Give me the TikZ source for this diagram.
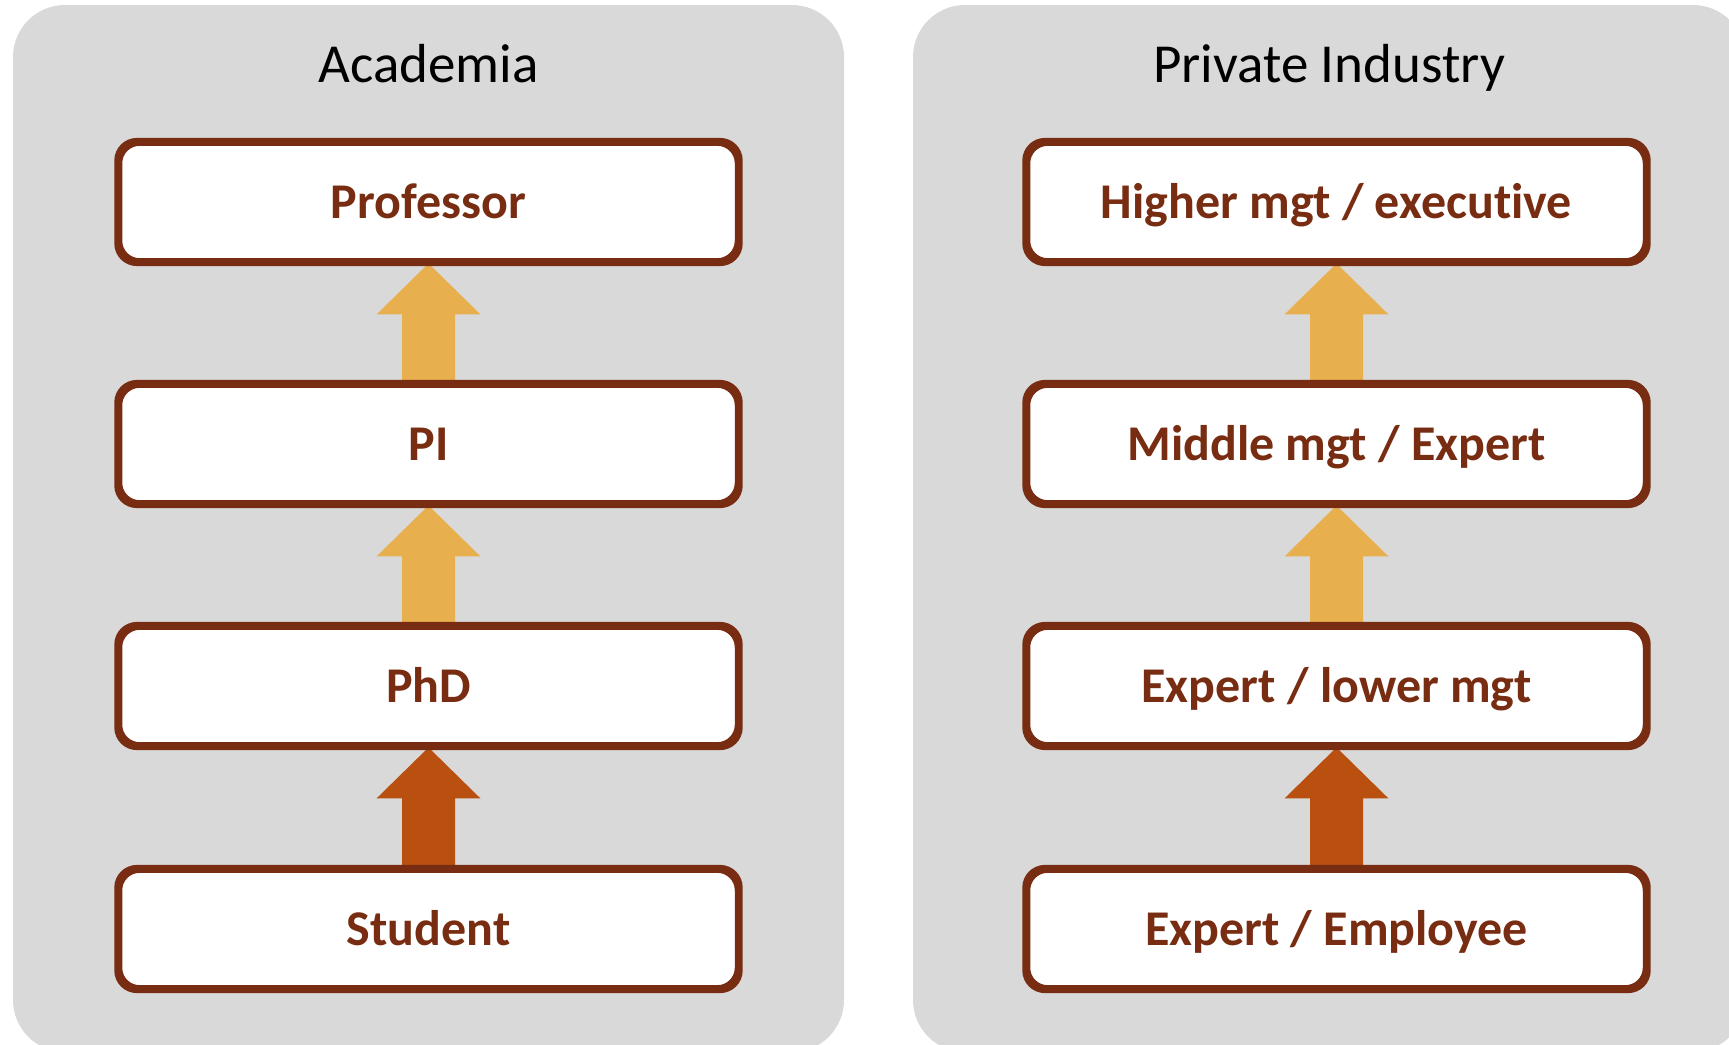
\documentclass[tikz,border=0pt]{standalone}
\usepackage{fontspec}
\setmainfont[Ligatures=NoCommon]{Carlito}
\usetikzlibrary{calc}
\definecolor{panelgray}{HTML}{D9D9D9}
\definecolor{boxbrown}{HTML}{782D12}
\definecolor{arrlight}{HTML}{E8AF4F}
\definecolor{arrdark}{HTML}{B9500F}
\tikzset{
  panel/.style={fill=panelgray, rounded corners=26pt},
  title/.style={font=\fontsize{27.5}{32}\selectfont, text=black, anchor=base},
  stepbox/.style={draw=boxbrown, line width=2.65pt, fill=white, rounded corners=10pt,
    minimum width=308.9pt, minimum height=58.8pt, inner sep=0pt,
    text height=16pt, text depth=0pt,
    text=boxbrown, font=\fontsize{25}{30}\selectfont\bfseries},
}
\newcommand\careerarrow[3]{%
  \fill[#1] (#2.south) -- ($(#2.south)+(52,51)$) -- ($(#2.south)+(26.5,51)$)
    -- ($(#3.north)+(26.5,0)$) -- ($(#3.north)+(-26.5,0)$)
    -- ($(#2.south)+(-26.5,51)$) -- ($(#2.south)+(-52,51)$) -- cycle;}
\begin{document}
\begin{tikzpicture}[x=0.5pt,y=-0.5pt]
\useasboundingbox (0,0) rectangle (1729,1044);
% panels
\fill[panel] (13,5) rectangle (844,1052);
\fill[panel] (913,5) rectangle (1745,1052);
\node[title] (tA) at (428.5,82) {Academia};
\node[title] (tP) at (1329,82) {Private Industry};
% left column
\node[stepbox] (a4) at (428.5,202) {Professor};
\node[stepbox] (a3) at (428.5,444) {PI};
\node[stepbox] (a2) at (428.5,686) {PhD};
\node[stepbox] (a1) at (428.5,929) {Student};
% right column
\node[stepbox] (p4) at (1336.5,202) {Higher mgt / executive};
\node[stepbox] (p3) at (1336.5,444) {Middle mgt / Expert};
\node[stepbox] (p2) at (1336.5,686) {Expert / lower mgt};
\node[stepbox] (p1) at (1336.5,929) {Expert / Employee};
% arrows
\careerarrow{arrlight}{a4}{a3}
\careerarrow{arrlight}{a3}{a2}
\careerarrow{arrdark}{a2}{a1}
\careerarrow{arrlight}{p4}{p3}
\careerarrow{arrlight}{p3}{p2}
\careerarrow{arrdark}{p2}{p1}
% redraw borders on top of arrows
\foreach \n in {a1,a2,a3,a4,p1,p2,p3,p4}{
  \draw[boxbrown, line width=2.65pt, rounded corners=10pt] (\n.south west) rectangle (\n.north east);
}
\end{tikzpicture}
\end{document}
